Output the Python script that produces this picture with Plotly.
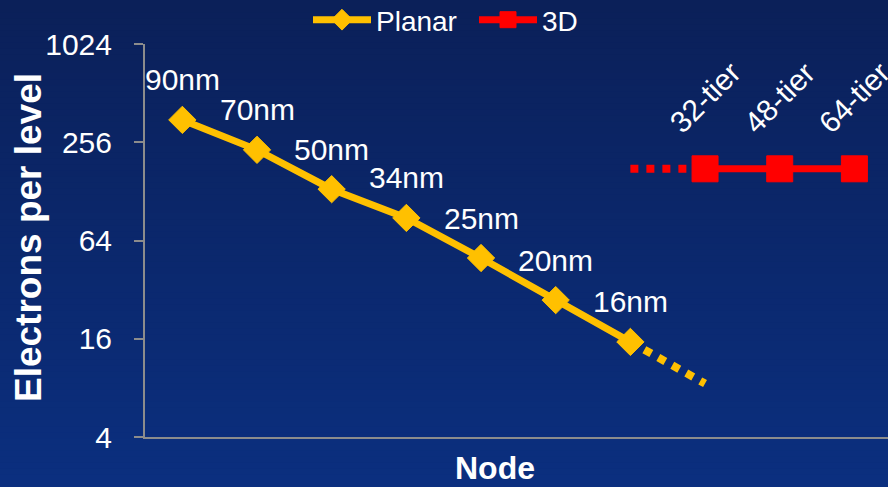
import math
import plotly.graph_objects as go

# Planar NAND: electrons stored per level at each process node
planar_nodes = ["90nm", "70nm", "50nm", "34nm", "25nm", "20nm", "16nm"]
planar_electrons = [351, 230, 132, 88, 50, 27.6, 15.3]
planar_trend_end = 8.5          # projected value one node beyond 16nm

# 3D NAND: electrons per level by stack height
tiers = ["32-tier", "48-tier", "64-tier"]
electrons_3d = [176, 176, 176]

y_ticks = [4, 16, 64, 256, 1024]

YELLOW = "#FFC000"
RED = "#FF0000"
WHITE = "#FFFFFF"
AXIS_GRAY = "#8C8C8C"
FONT = "Liberation Sans, Arial, sans-serif"

W, H = 888, 487
ML, MR, MT, MB = 145, 0, 44, 50
PW, PH = W - ML - MR, H - MT - MB

planar_x = list(range(len(planar_nodes)))
last = planar_x[-1]
x3d = [last + 1 + i for i in range(len(tiers))]

fig = go.Figure()

# dotted projection of the planar trend
fig.add_trace(go.Scatter(
    x=[last, last + 1], y=[planar_electrons[-1], planar_trend_end],
    mode="lines", line=dict(color=YELLOW, width=8, dash="8px,8px"),
    showlegend=False, hoverinfo="skip"))

# dotted lead-in to the 3D series
fig.add_trace(go.Scatter(
    x=[last, x3d[0]], y=[electrons_3d[0], electrons_3d[0]],
    mode="lines", line=dict(color=RED, width=8, dash="8px,8px"),
    showlegend=False, hoverinfo="skip"))

fig.add_trace(go.Scatter(
    x=planar_x, y=planar_electrons, name="Planar",
    mode="lines+markers",
    line=dict(color=YELLOW, width=7),
    marker=dict(symbol="diamond", size=21, color=YELLOW,
                line=dict(color=YELLOW, width=1))))

fig.add_trace(go.Scatter(
    x=x3d, y=electrons_3d, name="3D",
    mode="lines+markers",
    line=dict(color=RED, width=7),
    marker=dict(symbol="square", size=26, color=RED,
                line=dict(color=RED, width=1))))

# annotation y positions on a log axis are given in log10 units
annotations = []
for xi, yi, lab in zip(planar_x, planar_electrons, planar_nodes):
    annotations.append(dict(
        x=xi, y=math.log10(yi), xref="x", yref="y", text=lab,
        showarrow=False, xanchor="center", yanchor="middle", yshift=40,
        font=dict(family=FONT, size=30, color=WHITE)))
for xi, yi, lab in zip(x3d, electrons_3d, tiers):
    annotations.append(dict(
        x=xi, y=math.log10(yi), xref="x", yref="y", text=lab,
        showarrow=False, xanchor="center", yanchor="middle", yshift=71,
        textangle=-45, font=dict(family=FONT, size=30, color=WHITE)))

# axis titles
annotations.append(dict(
    x=(28 - ML) / PW, y=(H - MB - 238) / PH, xref="paper", yref="paper",
    xanchor="center", yanchor="middle",
    text="<b>Electrons per level</b>", textangle=-90, showarrow=False,
    font=dict(family=FONT, size=37, color=WHITE)))
annotations.append(dict(
    x=(495 - ML) / PW, y=(H - MB - 468) / PH, xref="paper", yref="paper",
    xanchor="center", yanchor="middle",
    text="<b>Node</b>", showarrow=False,
    font=dict(family=FONT, size=32, color=WHITE)))

# vertical navy-to-blue background gradient
shapes = []
top = (11, 32, 89)
bot = (11, 47, 127)
n = 80
for i in range(n):
    t = i / (n - 1)
    r = round(top[0] + (bot[0] - top[0]) * t)
    g = round(top[1] + (bot[1] - top[1]) * t)
    b = round(top[2] + (bot[2] - top[2]) * t)
    y_top_px = H * i / n
    y_bot_px = H * (i + 1) / n + 1
    shapes.append(dict(
        type="rect", xref="paper", yref="paper", layer="below",
        x0=-ML / PW - 0.01, x1=1.01,
        y0=(H - MB - y_bot_px) / PH, y1=(H - MB - y_top_px) / PH,
        fillcolor=f"rgb({r},{g},{b})", line=dict(width=0)))

fig.update_layout(
    width=W, height=H,
    margin=dict(l=ML, r=MR, t=MT, b=MB, autoexpand=False),
    paper_bgcolor="rgb(11,40,108)",
    plot_bgcolor="rgba(0,0,0,0)",
    font=dict(family=FONT, color=WHITE),
    showlegend=True,
    legend=dict(
        orientation="h", xref="container", x=308 / W, xanchor="left",
        yref="container", y=1 - 20 / H, yanchor="middle",
        font=dict(family=FONT, size=28, color=WHITE),
        bgcolor="rgba(0,0,0,0)", itemwidth=58, entrywidth=93),
    xaxis=dict(
        range=[-0.5, 9.45], showgrid=False, zeroline=False,
        showticklabels=False, ticks="",
        showline=True, linecolor=AXIS_GRAY, linewidth=2),
    yaxis=dict(
        type="log", range=[math.log10(4), math.log10(1024)],
        tickvals=y_ticks, ticktext=[str(v) for v in y_ticks],
        showgrid=False, zeroline=False,
        ticks="outside", ticklen=9, tickwidth=2, tickcolor=AXIS_GRAY,
        ticklabelstandoff=16,
        tickfont=dict(family=FONT, size=30, color=WHITE),
        showline=True, linecolor=AXIS_GRAY, linewidth=2),
    annotations=annotations,
    shapes=shapes,
)

fig.write_html("out.html")
